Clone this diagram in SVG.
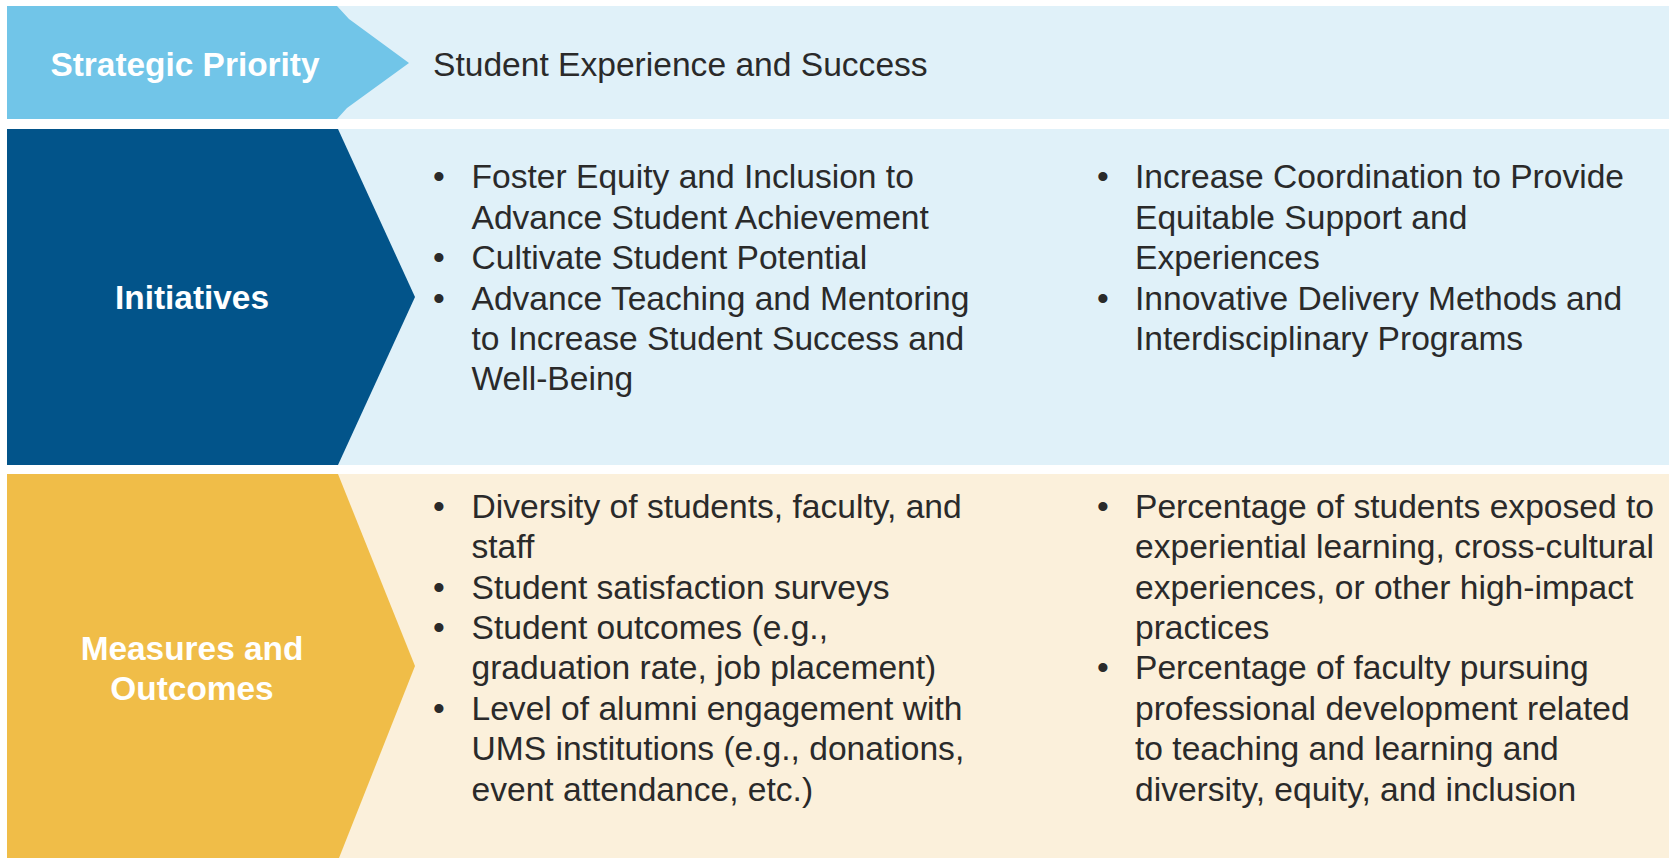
<svg xmlns="http://www.w3.org/2000/svg" width="1669" height="858" viewBox="0 0 1669 858">
  <style>
    .lbl { font-family: "Liberation Sans", Arial, sans-serif; font-size: 33.4px; font-weight: bold; fill: #ffffff; text-anchor: middle; }
    .txt { font-family: "Liberation Sans", Arial, sans-serif; font-size: 33.6px; fill: #2a2a2a; }
    .bul { font-family: "Liberation Sans", Arial, sans-serif; font-size: 33.6px; fill: #2a2a2a; text-anchor: middle; }
    .bg-blue { fill: #E0F1F9; }
    .bg-cream { fill: #FBF0DB; }
  </style>
  <rect x="0" y="0" width="1669" height="858" fill="#ffffff"/>

  <!-- Row 1: strategic priority -->
  <g id="priority">
    <rect class="bg-blue" x="7" y="6" width="1662" height="113"/>
    <polygon fill="#71C5E8" points="7,6 337,6 349,19 409,63 347,108 337,119 7,119"/>
    <text class="lbl" x="185" y="76">Strategic Priority</text>
    <text class="txt" x="433" y="76">Student Experience and Success</text>
  </g>

  <!-- Row 2: initiatives -->
  <g id="initiatives">
    <rect class="bg-blue" x="7" y="129" width="1662" height="336"/>
    <polygon fill="#02548A" points="7,129 338,129 415,297 338,465 7,465"/>
    <text class="lbl" x="192" y="309">Initiatives</text>
    <text class="bul"><tspan x="439" y="188.4">•</tspan><tspan x="439" y="269.2">•</tspan><tspan x="439" y="309.6">•</tspan></text>
    <text class="txt">
      <tspan x="471.5" y="188.4">Foster Equity and Inclusion to</tspan>
      <tspan x="471.5" y="228.8">Advance Student Achievement</tspan>
      <tspan x="471.5" y="269.2">Cultivate Student Potential</tspan>
      <tspan x="471.5" y="309.6">Advance Teaching and Mentoring</tspan>
      <tspan x="471.5" y="350">to Increase Student Success and</tspan>
      <tspan x="471.5" y="390.4">Well-Being</tspan>
    </text>
    <text class="bul"><tspan x="1103" y="188.4">•</tspan><tspan x="1103" y="309.6">•</tspan></text>
    <text class="txt">
      <tspan x="1135" y="188.4">Increase Coordination to Provide</tspan>
      <tspan x="1135" y="228.8">Equitable Support and</tspan>
      <tspan x="1135" y="269.2">Experiences</tspan>
      <tspan x="1135" y="309.6">Innovative Delivery Methods and</tspan>
      <tspan x="1135" y="350">Interdisciplinary Programs</tspan>
    </text>
  </g>

  <!-- Row 3: measures and outcomes -->
  <g id="measures">
    <rect class="bg-cream" x="7" y="474" width="1662" height="384"/>
    <polygon fill="#F0BD48" points="7,474 338,474 415,666 339,858 7,858"/>
    <text class="lbl"><tspan x="192" y="660">Measures and</tspan><tspan x="192" y="699.5">Outcomes</tspan></text>
    <text class="bul"><tspan x="439" y="517.7">•</tspan><tspan x="439" y="598.5">•</tspan><tspan x="439" y="638.9">•</tspan><tspan x="439" y="719.7">•</tspan></text>
    <text class="txt">
      <tspan x="471.5" y="517.7">Diversity of students, faculty, and</tspan>
      <tspan x="471.5" y="558.1">staff</tspan>
      <tspan x="471.5" y="598.5">Student satisfaction surveys</tspan>
      <tspan x="471.5" y="638.9">Student outcomes (e.g.,</tspan>
      <tspan x="471.5" y="679.3">graduation rate, job placement)</tspan>
      <tspan x="471.5" y="719.7">Level of alumni engagement with</tspan>
      <tspan x="471.5" y="760.1">UMS institutions (e.g., donations,</tspan>
      <tspan x="471.5" y="800.5">event attendance, etc.)</tspan>
    </text>
    <text class="bul"><tspan x="1103" y="517.7">•</tspan><tspan x="1103" y="679.3">•</tspan></text>
    <text class="txt">
      <tspan x="1135" y="517.7">Percentage of students exposed to</tspan>
      <tspan x="1135" y="558.1">experiential learning, cross-cultural</tspan>
      <tspan x="1135" y="598.5">experiences, or other high-impact</tspan>
      <tspan x="1135" y="638.9">practices</tspan>
      <tspan x="1135" y="679.3">Percentage of faculty pursuing</tspan>
      <tspan x="1135" y="719.7">professional development related</tspan>
      <tspan x="1135" y="760.1">to teaching and learning and</tspan>
      <tspan x="1135" y="800.5">diversity, equity, and inclusion</tspan>
    </text>
  </g>
</svg>
